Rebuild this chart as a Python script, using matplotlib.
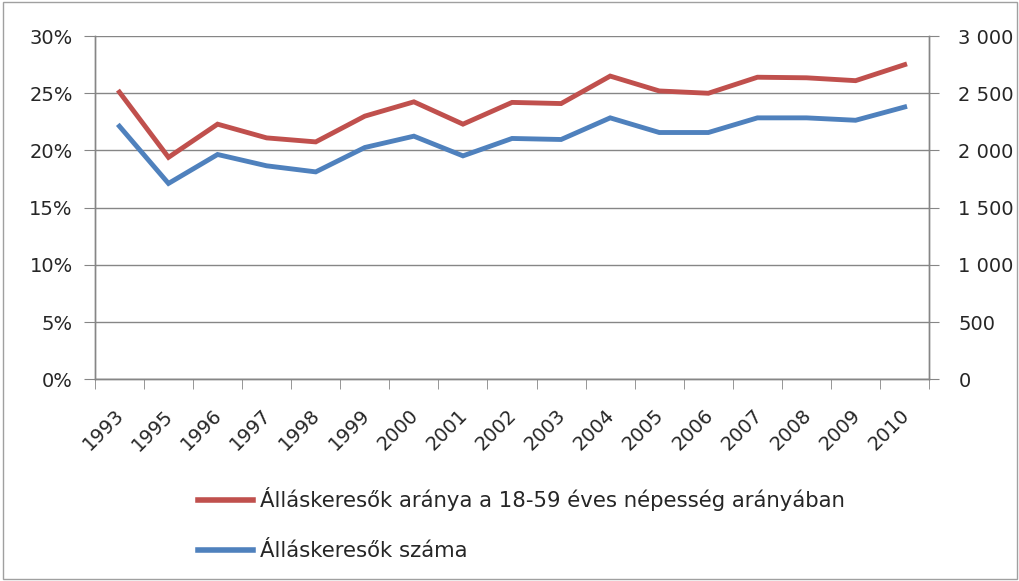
import matplotlib
matplotlib.use("Agg")
import matplotlib.pyplot as plt
import matplotlib.transforms as mtransforms
from matplotlib.ticker import FuncFormatter, FixedLocator
from matplotlib.patches import Rectangle

years = ["1993", "1995", "1996", "1997", "1998", "1999", "2000", "2001", "2002",
         "2003", "2004", "2005", "2006", "2007", "2008", "2009", "2010"]
ratio_pct = [25.1, 19.4, 22.3, 21.1, 20.75, 23.0, 24.25, 22.3, 24.2,
             24.1, 26.5, 25.2, 25.0, 26.4, 26.35, 26.1, 27.5]
count = [2212, 1712, 1965, 1866, 1813, 2026, 2125, 1953, 2105,
         2096, 2285, 2157, 2157, 2285, 2285, 2264, 2380]
label_ratio = "Álláskeresők aránya a 18-59 éves népesség arányában"
label_count = "Álláskeresők száma"

plt.rcParams['font.family'] = ['DejaVu Sans']

RED = "#C0504D"
BLUE = "#4F81BD"
GRID = "#868686"
TXT = "#262626"

fig = plt.figure(figsize=(10.2, 5.81), dpi=100)
ax = fig.add_axes([0.093, 0.347, 0.818, 0.591])
ax2 = ax.twinx()

x = list(range(len(years)))
l1, = ax.plot(x, ratio_pct, color=RED, lw=3.5, solid_joinstyle='miter', zorder=3)
l2, = ax2.plot(x, count, color=BLUE, lw=3.5, solid_joinstyle='miter', zorder=3)

ax.set_xlim(-0.5, len(years) - 0.5)
ax.set_ylim(0, 30)
ax2.set_ylim(0, 3000)
ax.set_yticks(range(0, 31, 5))
ax.yaxis.set_major_formatter(FuncFormatter(lambda v, p: f"{int(v)}%"))
ax2.set_yticks(range(0, 3001, 500))
ax2.yaxis.set_major_formatter(FuncFormatter(lambda v, p: f"{int(v):,}".replace(",", " ")))

ax.set_xticks(x)
ax.set_xticklabels(years, rotation=45, ha='right', rotation_mode='anchor')
ax.xaxis.set_minor_locator(FixedLocator([i - 0.5 for i in range(len(years) + 1)]))
ax.tick_params(axis='x', which='major', length=0, pad=14, labelsize=14, labelcolor=TXT)
ax.tick_params(axis='x', which='minor', length=7, color=GRID, direction='out')
ax.tick_params(axis='y', length=8, color=GRID, labelsize=14, pad=8, labelcolor=TXT)
ax2.tick_params(axis='y', length=7, color=GRID, labelsize=14, pad=14, labelcolor=TXT)

shift = mtransforms.ScaledTranslation(-5 / 100, -7 / 100, fig.dpi_scale_trans)
for lbl in ax.get_xticklabels():
    lbl.set_transform(lbl.get_transform() + shift)

ax.grid(axis='y', color=GRID, lw=1.0)
ax.set_axisbelow(True)
for a in (ax, ax2):
    a.spines['top'].set_visible(False)
    for s in ('left', 'right', 'bottom'):
        a.spines[s].set_color(GRID)
        a.spines[s].set_linewidth(1.0)

leg = fig.legend([l1, l2], [label_ratio, label_count], loc='upper left',
                 bbox_to_anchor=(0.186, 0.176), bbox_transform=fig.transFigure,
                 frameon=False, fontsize=15.3, handlelength=2.6, handletextpad=0.33,
                 labelspacing=1.42, borderaxespad=0, labelcolor=TXT)
for ln in leg.get_lines():
    ln.set_linewidth(4)

fig.patches.append(Rectangle((0.003, 0.003), 0.994, 0.994, transform=fig.transFigure,
                             fill=False, edgecolor='#A0A0A0', lw=1.0))

fig.savefig("out.png", dpi=100)
